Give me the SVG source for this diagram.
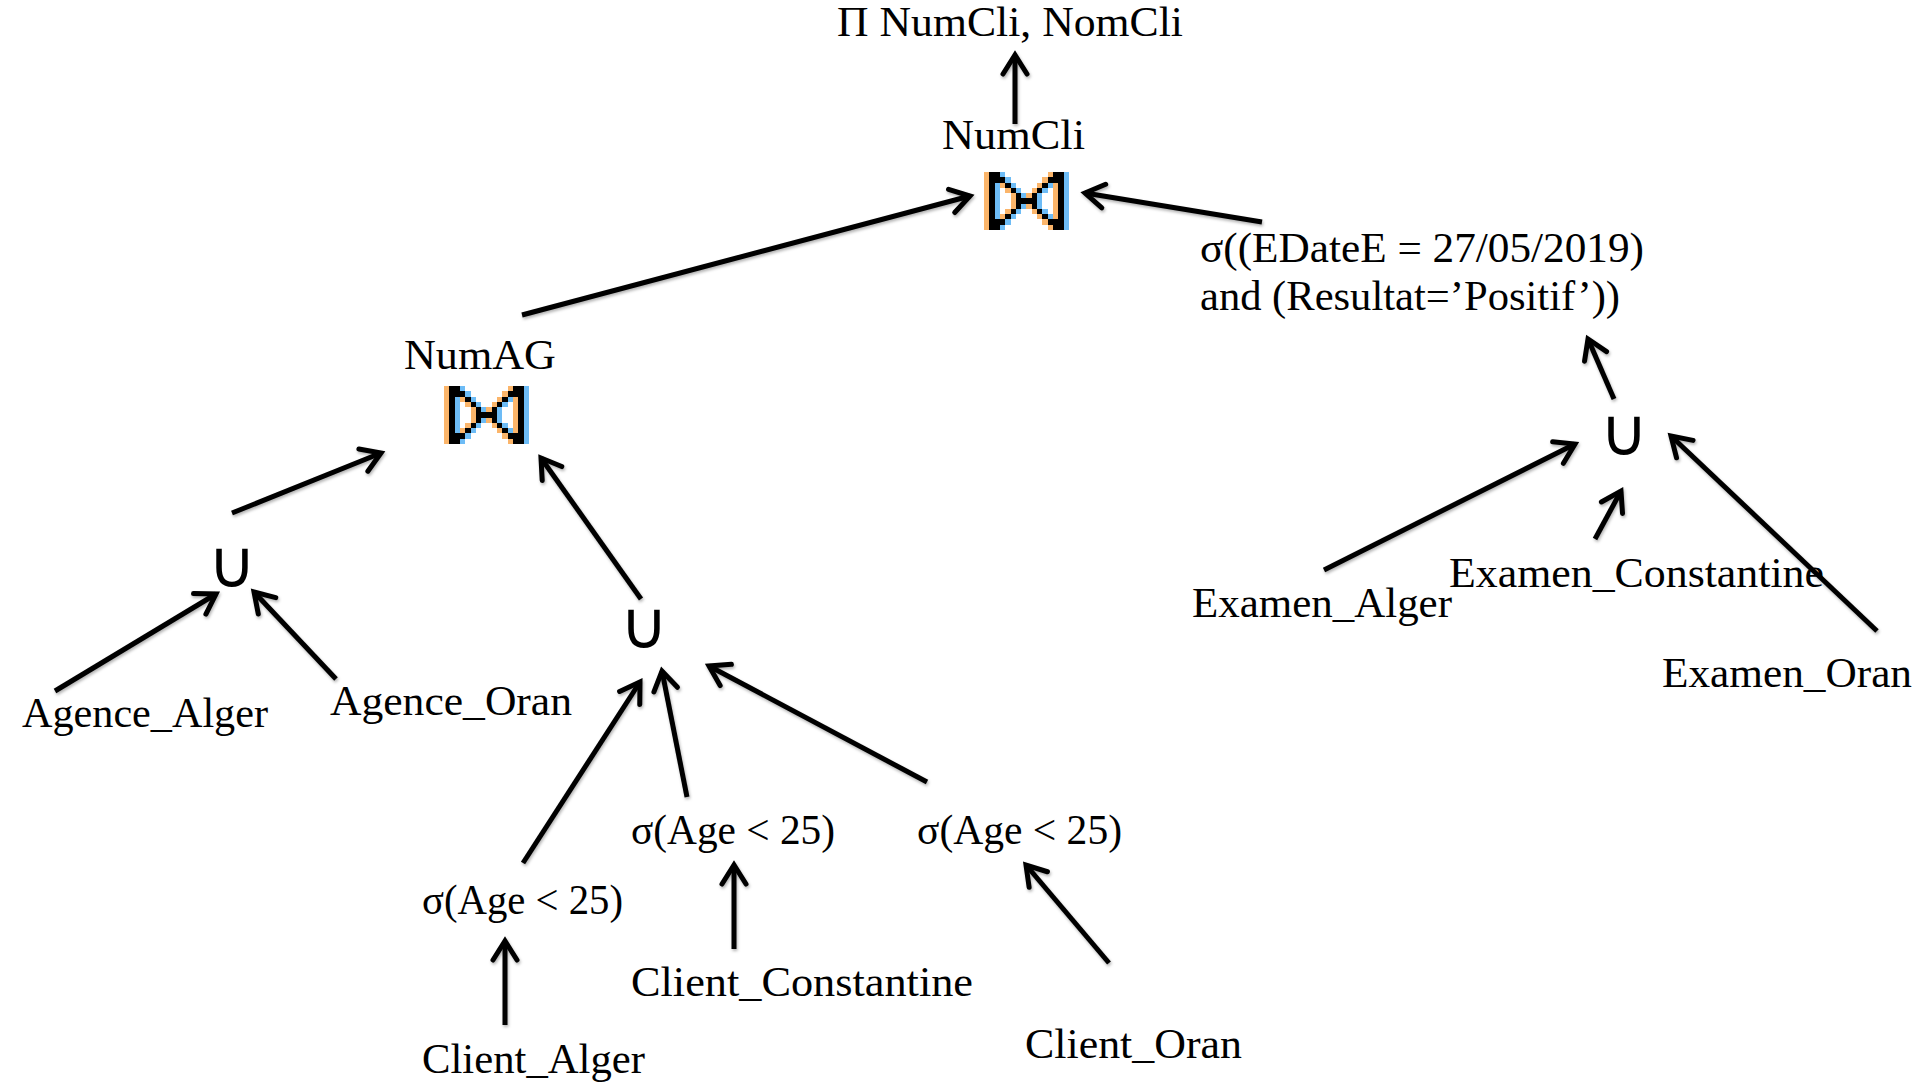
<svg xmlns="http://www.w3.org/2000/svg" width="1917" height="1082" viewBox="0 0 1917 1082">
<style>
  .lbl { font-family: "Liberation Serif", "DejaVu Serif", serif; font-size: 42px; fill: #000; }
  .uni { font-family: "DejaVu Sans", "Liberation Sans", sans-serif; font-size: 66px; fill: #000; text-anchor: middle; }
  .conn line { stroke: #000; stroke-width: 5; fill: none; marker-end: url(#ah); }
  .bk { fill: #000; }
  .or { fill: #fbb56a; }
  .bl { fill: #6dbcf6; }
</style>
<defs>
  <filter id="sh" x="-10%" y="-10%" width="120%" height="120%">
    <feDropShadow dx="1" dy="2" stdDeviation="1.5" flood-color="#000" flood-opacity="0.3"/>
  </filter>
  <marker id="ah" viewBox="-28 -18 34 36" refX="0" refY="0" markerWidth="34" markerHeight="36" markerUnits="userSpaceOnUse" orient="auto" overflow="visible">
    <path d="M-19,-12 L0,0 L-19,12" fill="none" stroke="#000" stroke-width="5" stroke-linejoin="miter" stroke-linecap="round"/>
  </marker>
  <g id="bowtie" shape-rendering="crispEdges">
    <path class="or" d="M0 0h1v11h-1z M12 0h1v1h-1z M12 10h1v1h-1z M11 1h1v1h-1z M11 9h1v1h-1z
      M3 2h1v1h-1z M10 2h1v1h-1z M13 2h1v1h-1z M3 8h1v1h-1z M10 8h1v1h-1z M13 8h1v1h-1z
      M4 3h1v1h-1z M9 3h1v1h-1z M13 3h1v1h-1z M4 7h1v1h-1z M9 7h1v1h-1z M13 7h1v1h-1z
      M5 4h1v1h-1z M8 4h1v1h-1z M13 4h1v1h-1z M5 6h1v1h-1z M8 6h1v1h-1z M13 6h1v1h-1z
      M5 5h1v1h-1z M13 5h1v1h-1z"/>
    <path class="bl" d="M15 0h1v11h-1z M3 0h1v1h-1z M3 10h1v1h-1z M4 1h1v1h-1z M4 9h1v1h-1z
      M2 2h1v1h-1z M5 2h1v1h-1z M12 2h1v1h-1z M2 8h1v1h-1z M5 8h1v1h-1z M12 8h1v1h-1z
      M2 3h1v1h-1z M6 3h1v1h-1z M11 3h1v1h-1z M2 7h1v1h-1z M6 7h1v1h-1z M11 7h1v1h-1z
      M2 4h1v1h-1z M7 4h1v1h-1z M10 4h1v1h-1z M2 6h1v1h-1z M7 6h1v1h-1z M10 6h1v1h-1z
      M2 5h1v1h-1z M10 5h1v1h-1z"/>
    <path class="bk" d="M1 0h1v11h-1z M14 0h1v11h-1z
      M2 0h1v1h-1z M2 10h1v1h-1z M13 0h1v1h-1z M13 10h1v1h-1z
      M2 1h2v1h-2z M2 9h2v1h-2z M12 1h2v1h-2z M12 9h2v1h-2z
      M4 2h1v1h-1z M4 8h1v1h-1z M11 2h1v1h-1z M11 8h1v1h-1z
      M5 3h1v1h-1z M5 7h1v1h-1z M10 3h1v1h-1z M10 7h1v1h-1z
      M6 4h1v1h-1z M6 6h1v1h-1z M9 4h1v1h-1z M9 6h1v1h-1z
      M6 5h4v1h-4z"/>
  </g>
</defs>
<rect width="1917" height="1082" fill="#fff"/>

<g id="connectors" class="conn" filter="url(#sh)">
  <line x1="1015" y1="124" x2="1015" y2="55"/>
  <line x1="522" y1="315" x2="970" y2="196"/>
  <line x1="1262" y1="222" x2="1085" y2="193"/>
  <line x1="1614" y1="399" x2="1588" y2="339"/>
  <line x1="1324" y1="570" x2="1575" y2="444"/>
  <line x1="1595" y1="539" x2="1621" y2="491"/>
  <line x1="1877" y1="631" x2="1671" y2="436"/>
  <line x1="232" y1="513" x2="381" y2="453"/>
  <line x1="641" y1="599" x2="541" y2="458"/>
  <line x1="55" y1="691" x2="216" y2="594"/>
  <line x1="336" y1="679" x2="254" y2="592"/>
  <line x1="523" y1="863" x2="640" y2="682"/>
  <line x1="687" y1="797" x2="662" y2="671"/>
  <line x1="927" y1="782" x2="709" y2="666"/>
  <line x1="505" y1="1025" x2="505" y2="941"/>
  <line x1="734" y1="949" x2="734" y2="865"/>
  <line x1="1109" y1="963" x2="1026" y2="865"/>
</g>

<g id="proj"><text class="lbl" x="837" y="36" textLength="346" lengthAdjust="spacingAndGlyphs">Π NumCli, NomCli</text></g>
<g id="join-top">
  <text class="lbl" x="942" y="149" textLength="143" lengthAdjust="spacingAndGlyphs">NumCli</text>
  <use href="#bowtie" transform="translate(984,172) scale(5.31,5.27)"/>
</g>
<g id="select-examen">
  <text class="lbl" x="1200" y="262" textLength="444" lengthAdjust="spacingAndGlyphs">σ((EDateE = 27/05/2019)</text>
  <text class="lbl" x="1200" y="310" textLength="420" lengthAdjust="spacingAndGlyphs">and (Resultat=’Positif’))</text>
</g>
<g id="join-ag">
  <text class="lbl" x="404" y="369" textLength="152" lengthAdjust="spacingAndGlyphs">NumAG</text>
  <use href="#bowtie" transform="translate(444,386) scale(5.31,5.27)"/>
</g>
<g id="union-examen"><text class="uni" x="1624" y="455">∪</text></g>
<g id="examen-alger"><text class="lbl" x="1192" y="617" textLength="260" lengthAdjust="spacingAndGlyphs">Examen_Alger</text></g>
<g id="examen-constantine"><text class="lbl" x="1449" y="587" textLength="375" lengthAdjust="spacingAndGlyphs">Examen_Constantine</text></g>
<g id="examen-oran"><text class="lbl" x="1662" y="687" textLength="250" lengthAdjust="spacingAndGlyphs">Examen_Oran</text></g>
<g id="union-agence"><text class="uni" x="232" y="587">∪</text></g>
<g id="union-client"><text class="uni" x="644" y="648">∪</text></g>
<g id="agence-alger"><text class="lbl" x="22" y="727" textLength="246" lengthAdjust="spacingAndGlyphs">Agence_Alger</text></g>
<g id="agence-oran"><text class="lbl" x="330" y="715" textLength="242" lengthAdjust="spacingAndGlyphs">Agence_Oran</text></g>
<g id="select-alger"><text class="lbl" x="422" y="914" textLength="201" lengthAdjust="spacingAndGlyphs">σ(Age &lt; 25)</text></g>
<g id="select-constantine"><text class="lbl" x="631" y="844" textLength="204" lengthAdjust="spacingAndGlyphs">σ(Age &lt; 25)</text></g>
<g id="select-oran"><text class="lbl" x="917" y="844" textLength="205" lengthAdjust="spacingAndGlyphs">σ(Age &lt; 25)</text></g>
<g id="client-alger"><text class="lbl" x="422" y="1073" textLength="223" lengthAdjust="spacingAndGlyphs">Client_Alger</text></g>
<g id="client-constantine"><text class="lbl" x="631" y="996" textLength="342" lengthAdjust="spacingAndGlyphs">Client_Constantine</text></g>
<g id="client-oran"><text class="lbl" x="1025" y="1058" textLength="217" lengthAdjust="spacingAndGlyphs">Client_Oran</text></g>
</svg>
